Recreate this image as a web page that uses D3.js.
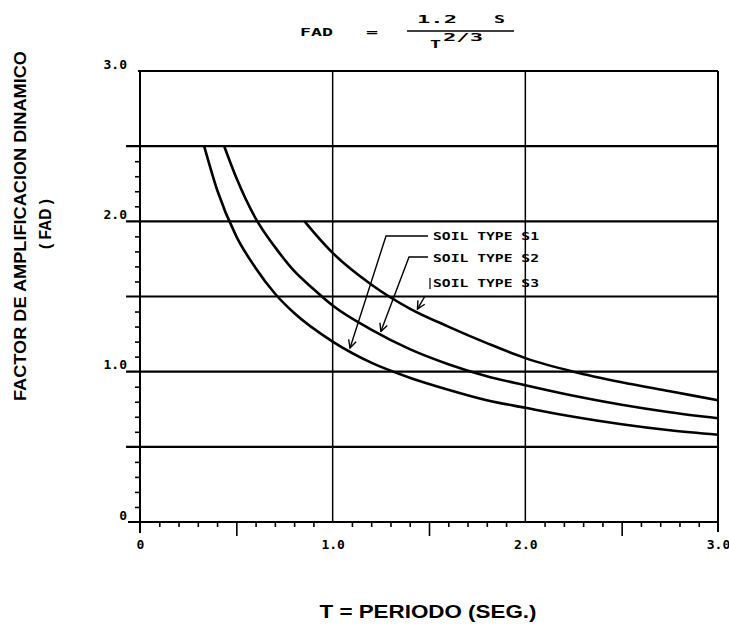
<!DOCTYPE html>
<html>
<head>
<meta charset="utf-8">
<script src="https://cdn.jsdelivr.net/npm/d3@7"></script>
<style>
  html, body { margin: 0; padding: 0; background: #fff; }
  svg { display: block; }
</style>
</head>
<body>
<svg id="chart" width="729" height="629"></svg>
<script>
// ---- data ----
const T_S1   = [0.333, 0.4, 0.5, 0.6, 0.7, 0.8, 1.0, 1.2, 1.4, 1.6, 1.8, 2.0, 2.25, 2.5, 2.75, 3.0];
const FAD_S1 = [2.50, 2.21, 1.90, 1.69, 1.52, 1.39, 1.20, 1.06, 0.96, 0.88, 0.81, 0.76, 0.70, 0.65, 0.61, 0.58];
const T_S2   = [0.437, 0.5, 0.6, 0.7, 0.8, 0.9, 1.0, 1.2, 1.4, 1.6, 1.8, 2.0, 2.25, 2.5, 2.75, 3.0];
const FAD_S2 = [2.50, 2.29, 2.02, 1.83, 1.67, 1.55, 1.44, 1.28, 1.15, 1.05, 0.97, 0.91, 0.84, 0.78, 0.73, 0.69];
const T_S3   = [0.854, 0.9, 1.0, 1.2, 1.4, 1.6, 1.8, 2.0, 2.25, 2.5, 2.75, 3.0];
const FAD_S3 = [2.00, 1.93, 1.79, 1.58, 1.42, 1.30, 1.19, 1.09, 1.00, 0.93, 0.87, 0.81];

const seriesNames = ["SOIL TYPE S1", "SOIL TYPE S2", "SOIL TYPE S3"];
const xTickLabels = ["0", "1.0", "2.0", "3.0"];
const xTickValues = [0, 1, 2, 3];
const yTickLabels = ["0", "1.0", "2.0", "3.0"];
const yTickValues = [0, 1, 2, 3];
const hGrid = [0.5, 1.0, 1.5, 2.0, 2.5];
const vGrid = [1.0, 2.0];
// leader arrows: anchor T on each curve
const leaderT = [1.09, 1.25, 1.44];

// ---- layout ----
const svg = d3.select("#chart");
const x = d3.scaleLinear().domain([0, 3]).range([140, 718]);
const y = d3.scaleLinear().domain([0, 3]).range([522, 71]);
const mono = "'DejaVu Sans Mono', 'Liberation Mono', monospace";
const sans = "'Liberation Sans', Arial, sans-serif";

// horizontal grid lines (extend slightly left of the axis)
svg.append("g").selectAll("line").data(hGrid).join("line")
  .attr("x1", x(0) - 14).attr("x2", x(3))
  .attr("y1", d => y(d)).attr("y2", d => y(d))
  .attr("stroke", "#000").attr("stroke-width", 2.2);

// top and bottom frame lines
svg.append("line").attr("x1", x(0) - 2).attr("x2", x(3)).attr("y1", y(3)).attr("y2", y(3))
  .attr("stroke", "#000").attr("stroke-width", 2);
svg.append("line").attr("x1", x(0) - 12).attr("x2", x(3) + 1).attr("y1", y(0)).attr("y2", y(0))
  .attr("stroke", "#000").attr("stroke-width", 2);

// vertical grid lines
svg.append("g").selectAll("line").data(vGrid).join("line")
  .attr("x1", d => x(d)).attr("x2", d => x(d))
  .attr("y1", y(0)).attr("y2", y(3))
  .attr("stroke", "#000").attr("stroke-width", 1.5);
// left and right frame
svg.append("line").attr("x1", x(0)).attr("x2", x(0)).attr("y1", y(0) + 11).attr("y2", y(3))
  .attr("stroke", "#000").attr("stroke-width", 2);
svg.append("line").attr("x1", x(3)).attr("x2", x(3)).attr("y1", y(0) + 10).attr("y2", y(3))
  .attr("stroke", "#000").attr("stroke-width", 2);

// x minor ticks (every 0.1) and 0.5 ticks
const xMinor = d3.range(1, 30).map(i => i / 10).filter(v => Math.round(v * 10) % 5 !== 0);
const xMajor = [0.5, 1.5, 2.5];
const gxMinor = svg.append("g").attr("transform", `translate(0,${y(0)})`)
  .call(d3.axisBottom(x).tickValues(xMinor).tickSize(5).tickFormat(""));
const gxMajor = svg.append("g").attr("transform", `translate(0,${y(0)})`)
  .call(d3.axisBottom(x).tickValues(xMajor).tickSize(14).tickFormat(""));
[gxMinor, gxMajor].forEach(g => {
  g.select(".domain").remove();
  g.selectAll("line").attr("stroke", "#000").attr("stroke-width", 1.6);
});
// x tick labels
const gxLab = svg.append("g").attr("transform", `translate(0,${y(0)})`)
  .call(d3.axisBottom(x).tickValues(xTickValues).tickSize(0).tickPadding(18)
    .tickFormat((d, i) => xTickLabels[i]));
gxLab.select(".domain").remove();
gxLab.selectAll("text").attr("font-family", mono).attr("font-size", 13)
  .attr("font-weight", "bold").attr("fill", "#000");

// y minor ticks (every 0.1 up to 2.4, not on grid lines)
const yMinor = d3.range(1, 25).map(i => i / 10).filter(v => Math.round(v * 10) % 5 !== 0);
const gyMinor = svg.append("g").attr("transform", `translate(${x(0)},0)`)
  .call(d3.axisLeft(y).tickValues(yMinor).tickSize(5).tickFormat(""));
gyMinor.select(".domain").remove();
gyMinor.selectAll("line").attr("stroke", "#000").attr("stroke-width", 1.6);
// y tick labels (sit just above-left of the lines)
const gyLab = svg.append("g").attr("transform", `translate(${x(0) - 13},-7)`)
  .call(d3.axisLeft(y).tickValues(yTickValues).tickSize(0).tickPadding(0)
    .tickFormat((d, i) => yTickLabels[i]));
gyLab.select(".domain").remove();
gyLab.selectAll("text").attr("font-family", mono).attr("font-size", 13)
  .attr("font-weight", "bold").attr("fill", "#000");

// curves
const line = d3.line().x(d => x(d[0])).y(d => y(d[1])).curve(d3.curveMonotoneX);
const series = [
  T_S1.map((t, i) => [t, FAD_S1[i]]),
  T_S2.map((t, i) => [t, FAD_S2[i]]),
  T_S3.map((t, i) => [t, FAD_S3[i]])
];
svg.append("g").selectAll("path").data(series).join("path")
  .attr("d", line).attr("fill", "none").attr("stroke", "#000")
  .attr("stroke-width", 2.6).attr("stroke-linejoin", "round");

// series labels
const labelY = [240, 262, 287];
svg.append("g").selectAll("text").data(seriesNames).join("text")
  .attr("x", 433).attr("y", (d, i) => labelY[i])
  .attr("font-family", mono).attr("font-size", 11).attr("font-weight", "bold")
  .attr("textLength", 106).attr("lengthAdjust", "spacingAndGlyphs")
  .attr("fill", "#000").text(d => d);
svg.append("line").attr("x1", 430).attr("x2", 430).attr("y1", 278).attr("y2", 289)
  .attr("stroke", "#000").attr("stroke-width", 1.2);

// leader lines with arrows
svg.append("defs").append("marker").attr("id", "arr")
  .attr("viewBox", "0 0 10 10").attr("refX", 9).attr("refY", 5)
  .attr("markerWidth", 7).attr("markerHeight", 7).attr("orient", "auto")
  .append("path").attr("d", "M1,1 L9,5 L1,9").attr("fill", "none")
  .attr("stroke", "#000").attr("stroke-width", 1.4);

const interp = (ts, fs, t) => {
  for (let i = 1; i < ts.length; i++) {
    if (t <= ts[i]) { const k = (t - ts[i-1]) / (ts[i] - ts[i-1]); return fs[i-1] + k * (fs[i] - fs[i-1]); }
  }
  return fs[fs.length - 1];
};
const curveVals = [[T_S1, FAD_S1], [T_S2, FAD_S2], [T_S3, FAD_S3]];
const leaderStart = [[428, 236, 386], [428, 257, 409], [425, 296, null]];
leaderT.forEach((t, i) => {
  const ex = x(t), ey = y(interp(curveVals[i][0], curveVals[i][1], t)) - 3;
  const s = leaderStart[i];
  const pts = s[2] === null ? [[s[0], s[1]], [ex, ey]] : [[s[0], s[1]], [s[2], s[1]], [ex, ey]];
  svg.append("path").attr("d", d3.line()(pts)).attr("fill", "none")
    .attr("stroke", "#000").attr("stroke-width", 1.4).attr("marker-end", "url(#arr)");
});

// formula title
const tt = svg.append("g").attr("font-family", mono).attr("font-weight", "bold").attr("fill", "#000");
tt.append("text").attr("x", 300).attr("y", 36).attr("font-size", 11)
  .attr("textLength", 33).attr("lengthAdjust", "spacingAndGlyphs").text("FAD");
tt.append("text").attr("x", 366).attr("y", 36).attr("font-size", 11)
  .attr("textLength", 12).attr("lengthAdjust", "spacingAndGlyphs").text("=");
tt.append("text").attr("x", 417).attr("y", 23).attr("font-size", 11)
  .attr("textLength", 40).attr("lengthAdjust", "spacingAndGlyphs").text("1.2");
tt.append("text").attr("x", 494).attr("y", 23).attr("font-size", 11)
  .attr("textLength", 11).attr("lengthAdjust", "spacingAndGlyphs").text("S");
svg.append("line").attr("x1", 407).attr("x2", 514).attr("y1", 31).attr("y2", 31)
  .attr("stroke", "#000").attr("stroke-width", 1.6);
tt.append("text").attr("x", 430).attr("y", 48).attr("font-size", 11)
  .attr("textLength", 11).attr("lengthAdjust", "spacingAndGlyphs").text("T");
tt.append("text").attr("x", 443).attr("y", 41).attr("font-size", 10)
  .attr("textLength", 40).attr("lengthAdjust", "spacingAndGlyphs").text("2/3");

// axis titles
svg.append("text").attr("transform", "translate(26,226) rotate(-90)")
  .attr("text-anchor", "middle").attr("font-family", sans).attr("font-weight", "bold")
  .attr("font-size", 17).attr("textLength", 350).attr("lengthAdjust", "spacingAndGlyphs")
  .attr("fill", "#000").text("FACTOR DE AMPLIFICACION DINAMICO");
svg.append("text").attr("transform", "translate(51,224) rotate(-90)")
  .attr("text-anchor", "middle").attr("font-family", sans).attr("font-weight", "bold")
  .attr("font-size", 17).attr("textLength", 50).attr("lengthAdjust", "spacingAndGlyphs")
  .attr("fill", "#000").text("( FAD )");
svg.append("text").attr("x", 428).attr("y", 618)
  .attr("text-anchor", "middle").attr("font-family", sans).attr("font-weight", "bold")
  .attr("font-size", 18).attr("textLength", 217).attr("lengthAdjust", "spacingAndGlyphs")
  .attr("fill", "#000").text("T = PERIODO (SEG.)");
</script>
</body>
</html>
